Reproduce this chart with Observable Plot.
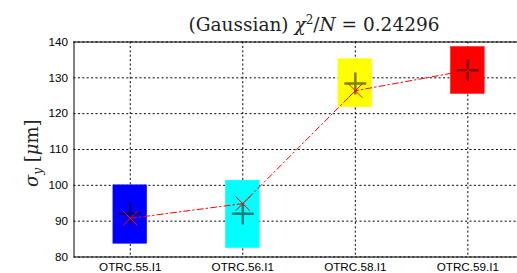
<!DOCTYPE html>
<html>
<head>
<meta charset="utf-8">
<script src="https://cdn.jsdelivr.net/npm/d3@7"></script>
<script src="https://cdn.jsdelivr.net/npm/@observablehq/plot@0.6"></script>
<style>
  html, body { margin: 0; padding: 0; background: #fff; overflow: hidden; }
  #wrap { position: relative; width: 517px; height: 273px; overflow: hidden; }
  #title { position: absolute; left: 114px; width: 400px; top: 9px; text-align: center;
           font-family: "DejaVu Serif", serif; font-size: 18.5px; color: #222; white-space: nowrap; line-height: 22px; }
  #title sup { font-size: 12px; }
  #ylabel { position: absolute; left: -20px; top: 139px; width: 110px; text-align: center; line-height: 22px;
            transform: rotate(-90deg); font-family: "DejaVu Serif", serif; font-size: 18px; color: #222; white-space: nowrap; }
  #ylabel sub { font-size: 12px; }
  #chart { position: absolute; left: 0; top: 0; }
  #chart svg { max-width: none !important; overflow: visible; }
</style>
</head>
<body>
<div id="wrap">
  <div id="chart"></div>
  <div id="title">(Gaussian) <i>χ</i><sup>2</sup>/<i>N</i> = 0.24296</div>
  <div id="ylabel"><i>σ</i><sub><i>y</i></sub> [<i>μ</i>m]</div>
</div>
<script>
const categories = ["OTRC.55.I1", "OTRC.56.I1", "OTRC.58.I1", "OTRC.59.I1"];
const boxLow = [83.7, 82.5, 121.8, 125.5];
const boxHigh = [100, 101.3, 135.2, 138.6];
const boxColors = ["#0000ff", "#00ffff", "#ffff00", "#ff0000"];
const measured = [92.1, 92.1, 128.4, 132.1];
const fitted = [90.8, 94.9, 126.4, 132.1];
const yTicks = [80, 90, 100, 110, 120, 130, 140];

const pos = categories.map((c, i) => i + 1);
const rows = categories.map((c, i) => ({
  i: i + 1, name: c, lo: boxLow[i], hi: boxHigh[i], color: boxColors[i],
  meas: measured[i], fit: fitted[i]
}));
const half = 0.15;

const chart = Plot.plot({
  width: 530,
  height: 273,
  marginLeft: 73.5,
  marginRight: 6.4,
  marginTop: 41.5,
  marginBottom: 16.5,
  style: { fontFamily: "Liberation Sans, Arial, sans-serif", fontSize: "11.7px", color: "#000", background: "transparent", maxWidth: "none" },
  x: { domain: [0.5, 4.5], ticks: pos, tickFormat: d => categories[d - 1] },
  y: { domain: [80, 140], ticks: yTicks },
  marks: [
    Plot.gridY(yTicks, { stroke: "#000", strokeOpacity: 1, strokeDasharray: "2,2.4", strokeWidth: 1 }),
    Plot.gridX(pos, { stroke: "#000", strokeOpacity: 1, strokeDasharray: "2,2.4", strokeWidth: 1 }),
    Plot.ruleY([80, 140], { stroke: "#000", strokeWidth: 1 }),
    Plot.ruleX([0.5], { stroke: "#000", strokeWidth: 1 }),
    Plot.axisY(yTicks, { tickSize: 0, tickPadding: 6, label: null, fontSize: 11.7 }),
    Plot.axisX(pos, { tickSize: 0, tickPadding: 6, label: null, fontSize: 11.7, tickFormat: d => categories[d - 1] }),
    Plot.rectY(rows, { x1: d => d.i - half, x2: d => d.i + half, y1: "lo", y2: "hi", fill: "color", stroke: "color", strokeWidth: 0.5 }),
    Plot.dot(rows, { x: "i", y: "meas", symbol: "plus", r: 7.1, stroke: "#000", strokeOpacity: 0.5, strokeWidth: 2.5 }),
    Plot.line(rows, { x: "i", y: "fit", stroke: "#ff0000", strokeWidth: 1, strokeDasharray: "6,3,1.5,3" }),
    Plot.dot(rows, { x: "i", y: "fit", symbol: "times", r: 6.4, stroke: "#ff0000", strokeWidth: 1 })
  ]
});
document.getElementById("chart").appendChild(chart);
</script>
</body>
</html>
